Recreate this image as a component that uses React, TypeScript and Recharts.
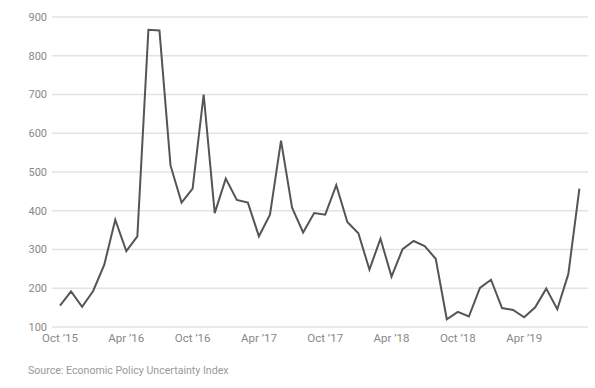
import { LineChart, Line, XAxis, YAxis, CartesianGrid } from "recharts";

// monthly, Oct 2015 – Sep 2019
const months = [
  "Oct ’15", "Nov ’15", "Dec ’15", "Jan ’16", "Feb ’16", "Mar ’16",
  "Apr ’16", "May ’16", "Jun ’16", "Jul ’16", "Aug ’16", "Sep ’16",
  "Oct ’16", "Nov ’16", "Dec ’16", "Jan ’17", "Feb ’17", "Mar ’17",
  "Apr ’17", "May ’17", "Jun ’17", "Jul ’17", "Aug ’17", "Sep ’17",
  "Oct ’17", "Nov ’17", "Dec ’17", "Jan ’18", "Feb ’18", "Mar ’18",
  "Apr ’18", "May ’18", "Jun ’18", "Jul ’18", "Aug ’18", "Sep ’18",
  "Oct ’18", "Nov ’18", "Dec ’18", "Jan ’19", "Feb ’19", "Mar ’19",
  "Apr ’19", "May ’19", "Jun ’19", "Jul ’19", "Aug ’19", "Sep ’19",
];

const epu = [
  155, 192, 152, 193, 260, 377, 296, 334, 867, 865, 517, 421,
  457, 700, 394, 483, 428, 421, 334, 390, 581, 408, 344, 394,
  390, 466, 371, 342, 248, 328, 230, 301, 322, 309, 276, 120,
  139, 127, 201, 222, 149, 144, 125, 151, 199, 146, 237, 457,
];

const yTicks = [100, 200, 300, 400, 500, 600, 700, 800, 900];

const data = months.map((m, i) => ({ month: m, value: epu[i] }));

const font = "Roboto, sans-serif";

export default function App() {
  return (
    <div style={{ position: "absolute", left: 0, top: 0, width: 595, height: 388, background: "#fff" }}>
      <LineChart
        width={595}
        height={360}
        data={data}
        margin={{ top: 17, right: 7, left: 0, bottom: 0 }}
      >
        <CartesianGrid vertical={false} stroke="#e3e3e3" strokeWidth={1.5} />
        <XAxis
          dataKey="month"
          interval={5}
          axisLine={false}
          tickLine={false}
          tickSize={0}
          tickMargin={7}
          height={33}
          padding={{ left: 8, right: 8.6 }}
          tick={{ fill: "#888", fontSize: 11.5, fontFamily: font }}
        />
        <YAxis
          domain={[100, 900]}
          ticks={yTicks}
          width={52}
          axisLine={false}
          tickLine={false}
          tickSize={0}
          tickMargin={5}
          tick={{ fill: "#888", fontSize: 11, fontFamily: font }}
        />
        <Line
          type="linear"
          dataKey="value"
          stroke="#555"
          strokeWidth={2}
          dot={false}
          isAnimationActive={false}
        />
      </LineChart>
      <div
        style={{
          position: "absolute",
          left: 28,
          top: 364,
          fontFamily: font,
          fontSize: 10.6,
          color: "#999",
        }}
      >
        Source: Economic Policy Uncertainty Index
      </div>
    </div>
  );
}
